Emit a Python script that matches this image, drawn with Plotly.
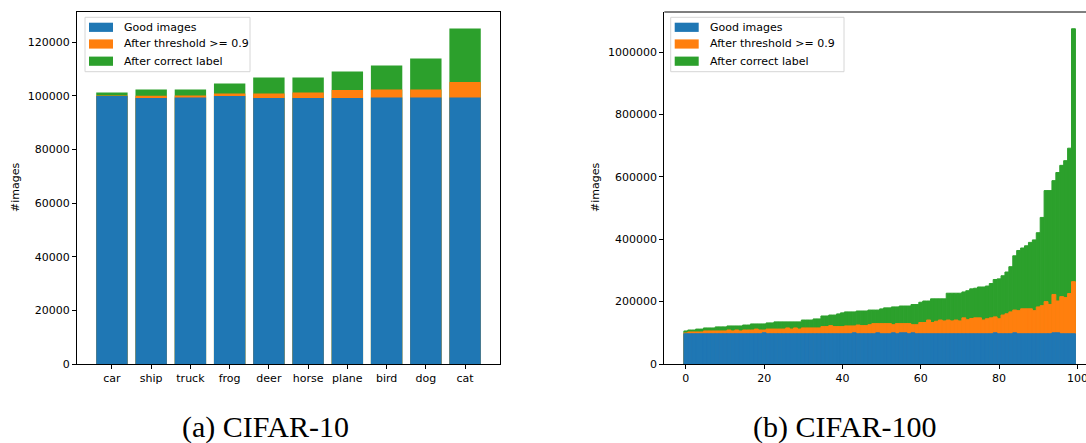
import plotly.graph_objects as go

W, H = 1086, 443

# ---------------- data ----------------
cifar10_classes = ["car", "ship", "truck", "frog", "deer", "horse", "plane", "bird", "dog", "cat"]
cifar10_good = [99900, 99150, 99400, 99900, 99150, 99150, 99150, 99400, 99400, 99400]
cifar10_threshold = [100150, 100020, 100150, 100890, 100890, 101260, 102130, 102380, 102380, 105110]
cifar10_correct = [101260, 102380, 102380, 104610, 106850, 106850, 109080, 111320, 113920, 125090]

cifar100_classes = list(range(100))
cifar100_good = [
    97000, 97000, 97000, 97000, 97000, 97000, 97000, 97000, 97000, 97000,
    97000, 97000, 97000, 97000, 97000, 97000, 97000, 97000, 97000, 97000,
    100000, 97000, 97000, 97000, 97000, 97000, 97000, 97000, 97000, 97000,
    97000, 97000, 97000, 97000, 97000, 97000, 97000, 97000, 97000, 97000,
    97000, 97000, 97000, 100000, 97000, 97000, 97000, 97000, 97000, 100000,
    97000, 97000, 97000, 100000, 97000, 100000, 100000, 97000, 100000, 97000,
    97000, 97000, 97000, 97000, 97000, 97000, 97000, 97000, 97000, 97000,
    97000, 97000, 97000, 97000, 97000, 97000, 97000, 97000, 97000, 100000,
    97000, 97000, 97000, 97000, 100000, 97000, 97000, 97000, 97000, 97000,
    97000, 97000, 97000, 97000, 100000, 100000, 97000, 97000, 97000, 97000,
]
cifar100_threshold = [
    99600, 102800, 102800, 102800, 102800, 106000, 106000, 106000, 106000, 106000,
    106000, 109000, 106000, 109000, 106000, 109000, 109000, 109000, 112000, 109000,
    109000, 112000, 112000, 112000, 112000, 112000, 115600, 112000, 115600, 112000,
    115600, 115600, 115600, 115600, 115600, 120000, 120000, 123000, 120000, 120000,
    120000, 122000, 122000, 122000, 125000, 123000, 123000, 126000, 129500, 129500,
    129500, 129500, 129500, 126000, 129500, 129500, 129500, 129500, 126000, 126000,
    133000, 133000, 141000, 133000, 137000, 141000, 138000, 141000, 138000, 141000,
    138000, 148000, 142000, 146000, 148000, 148000, 141000, 145000, 148000, 151000,
    145000, 157000, 161000, 167000, 173000, 171000, 177000, 177000, 177000, 171000,
    183000, 187000, 200000, 191000, 223000, 202000, 216000, 213000, 226000, 264000,
]
cifar100_correct = [
    106000, 109000, 109000, 112000, 112000, 115600, 115600, 115600, 119000, 119000,
    119000, 122000, 122000, 122000, 122000, 125000, 125000, 128500, 128500, 128500,
    128500, 131700, 131700, 135000, 135000, 135000, 135000, 135000, 135000, 135000,
    141000, 141000, 141000, 144500, 144500, 154000, 154000, 157000, 157000, 160600,
    164000, 167000, 167000, 167000, 170000, 170000, 170000, 173000, 173000, 173000,
    176700, 180000, 180000, 183000, 183000, 186000, 186000, 186000, 190600, 190600,
    198000, 202000, 202000, 209000, 209000, 209000, 209000, 227000, 227000, 227000,
    227000, 231000, 235000, 241000, 243000, 247000, 247000, 250000, 258000, 271000,
    273000, 283000, 295000, 312000, 347000, 364000, 372000, 379000, 390000, 398000,
    421000, 470000, 556000, 556000, 588000, 614000, 637000, 652000, 692000, 1075000,
]

series_names = ["Good images", "After threshold >= 0.9", "After correct label"]
series_colors = ["#1f77b4", "#ff7f0e", "#2ca02c"]

cifar10_yticks = [0, 20000, 40000, 60000, 80000, 100000, 120000]
cifar100_yticks = [0, 200000, 400000, 600000, 800000, 1000000]
cifar100_xticks = [0, 20, 40, 60, 80, 100]
captions = ["(a) CIFAR-10", "(b) CIFAR-100"]

# ---------------- figure ----------------
def px(x):
    return x / W

def py(y):
    return 1 - y / H

fig = go.Figure()

left_series = [cifar10_good, cifar10_threshold, cifar10_correct]
right_series = [cifar100_good, cifar100_threshold, cifar100_correct]

# draw tallest first (overlay), so smaller cumulative values sit on top
for i in [2, 1, 0]:
    fig.add_trace(go.Bar(
        x=cifar10_classes, y=left_series[i], width=0.8,
        marker=dict(color=series_colors[i], line=dict(width=0)),
        opacity=1, name=series_names[i], showlegend=False, hoverinfo="skip",
        xaxis="x", yaxis="y",
    ))
for i in [2, 1, 0]:
    fig.add_trace(go.Bar(
        x=cifar100_classes, y=right_series[i], width=1.0,
        marker=dict(color=series_colors[i], line=dict(width=1.0, color=series_colors[i])),
        opacity=1, name=series_names[i], showlegend=False, hoverinfo="skip",
        xaxis="x2", yaxis="y2",
    ))

tickfont = dict(family="DejaVu Sans", size=11, color="black")
common_axis = dict(
    showgrid=False, zeroline=False, showline=True, linecolor="black", linewidth=1,
    ticks="outside", ticklen=4, tickwidth=1, tickcolor="black", tickfont=tickfont,
    automargin=False,
)

ydom = [py(364), py(12)]
fig.update_layout(
    width=W, height=H, autosize=False,
    margin=dict(l=0, r=0, t=0, b=0, pad=0),
    paper_bgcolor="white", plot_bgcolor="white",
    barmode="overlay",
    showlegend=False,
    xaxis=dict(domain=[px(77), px(500)], type="category", range=[-0.89, 9.89],
               mirror=True, anchor="y", **common_axis),
    yaxis=dict(domain=ydom, range=[0, 131250], tickvals=cifar10_yticks,
               ticktext=[str(v) for v in cifar10_yticks], mirror=True, anchor="x",
               **common_axis),
    xaxis2=dict(domain=[px(664.3), 1.0], range=[-5.5, 102.2], tickvals=cifar100_xticks,
                ticktext=[str(v) for v in cifar100_xticks], mirror=False, anchor="y2",
                ticklabeloverflow="allow", **common_axis),
    yaxis2=dict(domain=ydom, range=[0, 1128750], tickvals=cifar100_yticks,
                ticktext=[str(v) for v in cifar100_yticks], mirror=False, anchor="x2",
                **common_axis),
)

shapes = []
annotations = []

# top spine of the right chart (right spine falls outside the picture)
shapes.append(dict(type="line", xref="paper", yref="paper",
                   x0=px(664.3), x1=1.0, y0=py(12), y1=py(12),
                   line=dict(color="black", width=1)))

# manual legends, matplotlib style
def add_legend(box_x0, box_x1):
    shapes.append(dict(type="rect", xref="paper", yref="paper",
                       x0=px(box_x0), x1=px(box_x1), y0=py(71.7), y1=py(17.3),
                       fillcolor="rgba(255,255,255,0.8)",
                       line=dict(color="#d6d6d6", width=1), layer="above"))
    rows = [27.3, 44.0, 61.2]
    for name, color, yc in zip(series_names, series_colors, rows):
        shapes.append(dict(type="rect", xref="paper", yref="paper",
                           x0=px(box_x0 + 4), x1=px(box_x0 + 28),
                           y0=py(yc + 4.6), y1=py(yc - 4.6),
                           fillcolor=color, line=dict(width=0), layer="above"))
        annotations.append(dict(xref="paper", yref="paper", x=px(box_x0 + 37), y=py(yc),
                                text=name, showarrow=False, xanchor="left", yanchor="middle",
                                font=dict(family="DejaVu Sans", size=11, color="black")))

add_legend(85, 250)
add_legend(670.7, 844)

# y-axis titles
for xc in [15, 595]:
    annotations.append(dict(xref="paper", yref="paper", x=px(xc), y=py(188),
                            text="#images", showarrow=False, textangle=-90,
                            xanchor="center", yanchor="middle",
                            font=dict(family="DejaVu Sans", size=11, color="black")))

# captions
for cap, xc in zip(captions, [265.5, 845]):
    annotations.append(dict(xref="paper", yref="paper", x=px(xc), y=py(427),
                            text=cap, showarrow=False, xanchor="center", yanchor="middle",
                            font=dict(family="Liberation Serif", size=30, color="black")))

fig.update_layout(shapes=shapes, annotations=annotations)

fig.write_html("out.html",
               config={"responsive": False, "displayModeBar": False},
               post_script="document.body.style.margin='0px';document.body.style.padding='0px';document.body.style.overflow='hidden';")
